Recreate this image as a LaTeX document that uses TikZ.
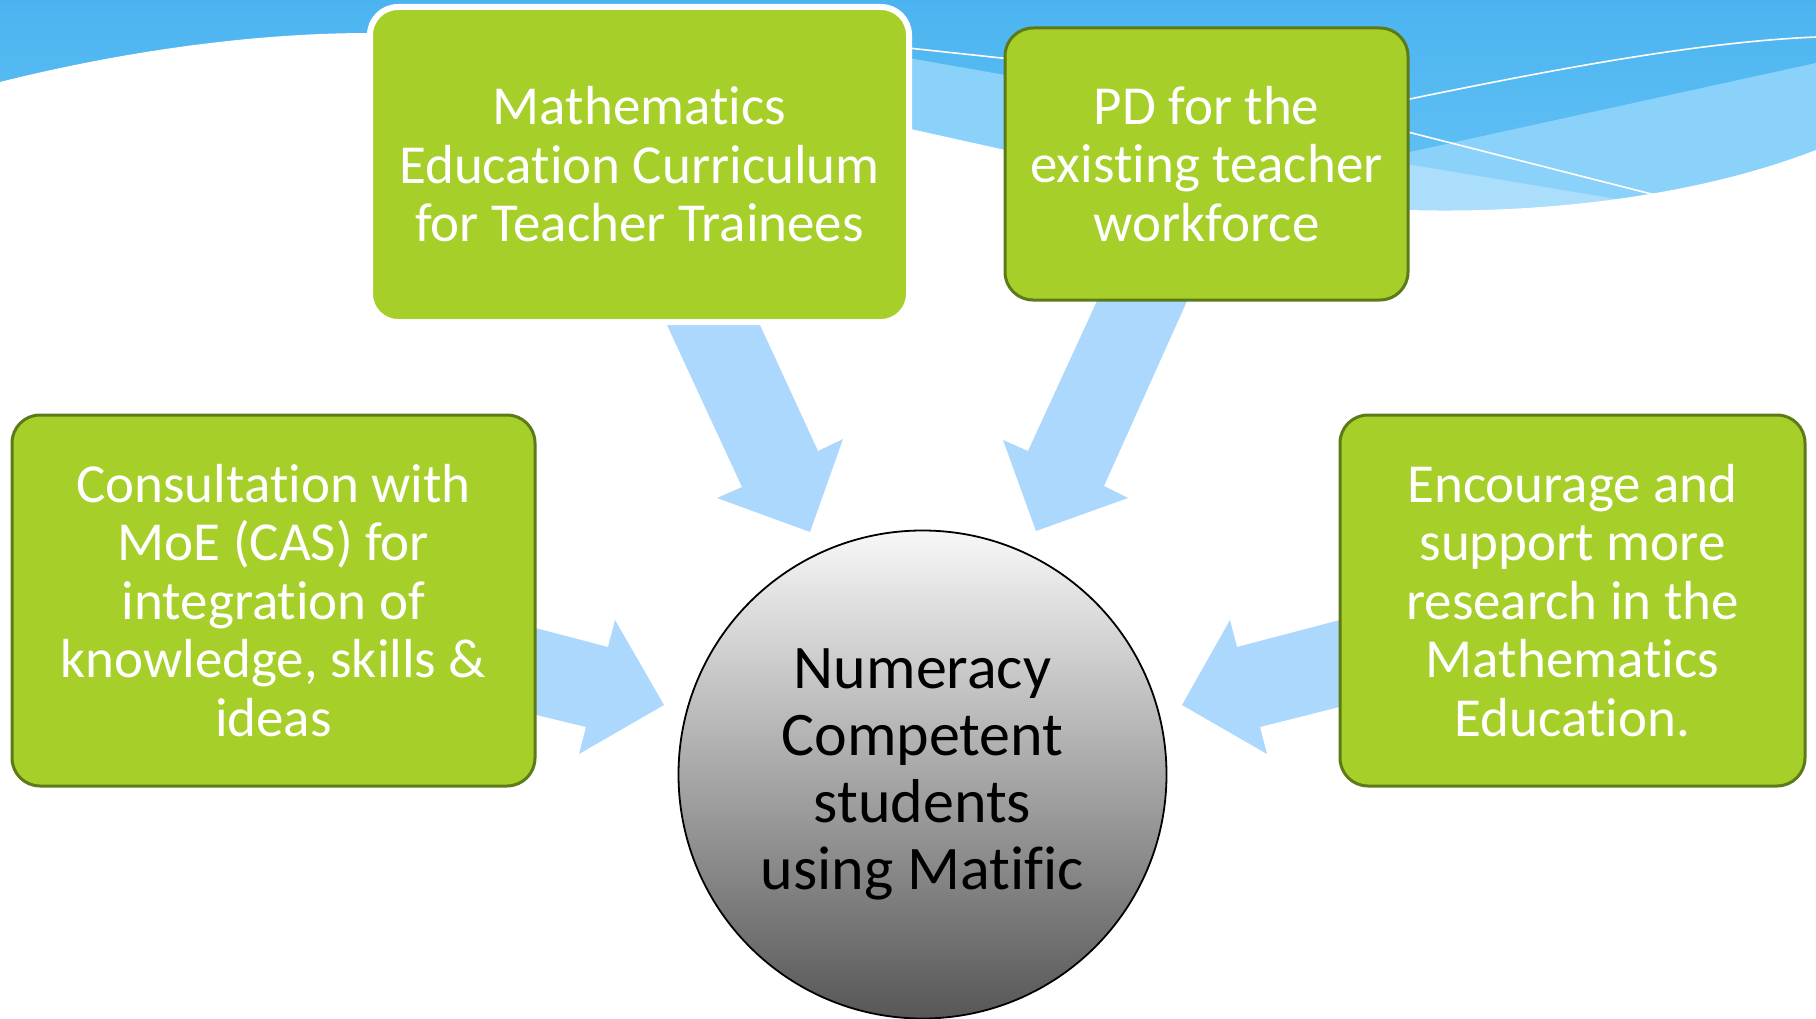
\documentclass[tikz,border=0pt]{standalone}
\usepackage{fontspec}
\setmainfont[Ligatures={NoCommon}, RawFeature={-liga;-clig;-calt}]{Carlito}
\definecolor{leaf}{RGB}{167,207,42}
\definecolor{leafedge}{RGB}{92,122,24}
\definecolor{arrowblue}{RGB}{173,216,254}
\definecolor{skytop}{RGB}{75,180,240}
\definecolor{skybottom}{RGB}{108,198,247}
\definecolor{bandblue}{RGB}{139,210,250}
\definecolor{paleblue}{RGB}{171,222,251}
\begin{document}
\begin{tikzpicture}[x=1pt,y=-1pt,
  box/.style={rectangle, rounded corners=28pt, fill=leaf, draw=leafedge,
    line width=3pt, text=white, align=center,
    font=\fontsize{55pt}{58.5pt}\selectfont, inner sep=0pt},
  blockarrow/.style={fill=arrowblue},
  waveline/.style={draw=white, line width=1.6pt}]
\useasboundingbox (0,0) rectangle (1816,1019);

% sky banner
\shade[top color=skytop, bottom color=skybottom] (0,0) rectangle (1816,260);
\fill[bandblue] (880,53) -- (1005,75) -- (1410,152) -- (1816,63) -- (1816,260) -- (880,260) -- cycle;
\fill[paleblue] (1400,163) -- (1640,203) -- (1640,260) -- (1400,260) -- cycle;
\draw[waveline] (880,45) -- (1020,60);
\draw[waveline] (1400,101) .. controls (1560,68) and (1700,42) .. (1816,37);
\draw[waveline] (1400,130) -- (1667,198);
% white ground below the banner
\fill[white] (0,82) .. controls (120,52) and (250,33) .. (370,33) -- (906,128) -- (1005,150) -- (1408,210)
  .. controls (1550,214) and (1700,195) .. (1816,150) -- (1816,1019) -- (0,1019) -- cycle;

% block arrows towards the centre
\fill[blockarrow] (667,325) -- (760,325) -- (818,451) -- (843,439) -- (810,532) -- (717,498) -- (742,487) -- cycle;
\fill[blockarrow] (1102,290) -- (1192,290) -- (1104,486) -- (1128,498) -- (1036,531) -- (1003,440) -- (1028,451) -- cycle;
\fill[blockarrow] (520,624) -- (608,647) -- (615,620) -- (664,705) -- (579,754) -- (586,727) -- (520,711) -- cycle;
\fill[blockarrow] (1355,616) -- (1237,647) -- (1230,620) -- (1182,705) -- (1267,754) -- (1260,727) -- (1355,703) -- cycle;

% boxes
\node[box, draw=white, line width=6pt, minimum width=539pt, minimum height=315pt] (curr) at (639.5,164.5)
  {Mathematics\\Education Curriculum\\for Teacher Trainees};
\node[box, minimum width=403pt, minimum height=272pt] (pd) at (1206.5,164)
  {PD for the\\existing teacher\\workforce};
\node[box, minimum width=523pt, minimum height=371pt] (moe) at (273.5,600.5)
  {Consultation with\\MoE (CAS) for\\integration of\\knowledge, skills \&\\ideas};
\node[box, minimum width=465pt, minimum height=371pt] (res) at (1572.5,600.5)
  {Encourage and\\support more\\research in the\\Mathematics\\Education.};

% central goal
\node[circle, minimum size=488pt, draw=black, line width=1.8pt, top color=white!97!black,
  bottom color=black!66, align=center, inner sep=0pt,
  font=\fontsize{62pt}{67pt}\selectfont] (goal) at (922.5,774.5)
  {Numeracy\\Competent\\students\\using Matific};
\end{tikzpicture}
\end{document}
